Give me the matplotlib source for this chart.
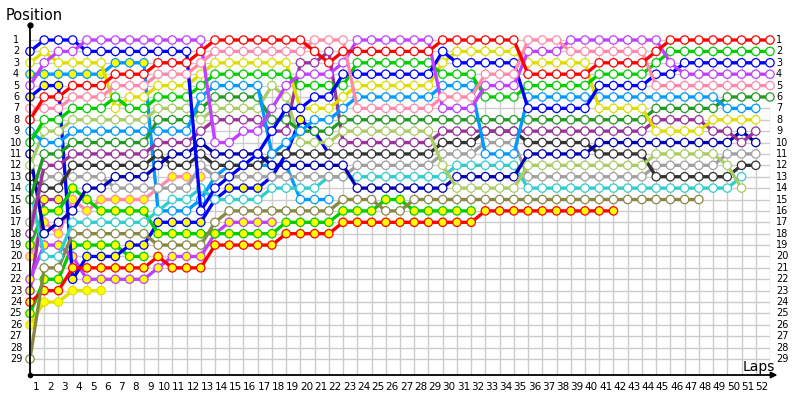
import matplotlib
matplotlib.use("Agg")
import matplotlib.pyplot as plt
import numpy as np

_ = None
laps = list(range(0, 53))
lap_labels = [str(i) for i in range(1, 53)]
positions = list(range(1, 30))

# driver: positions per lap (lap 0 .. 52)
R1 = [8,6,6,5,5,5,4,4,4,3,3,3,2, 1,1,1,1,1,1,1, 2,3,2,2,2,2,2,2,2, 1,1,1,1,1,1, 4,4,4,4,4, 3,3,3,3, 2, 1,1,1,1,1,1,1,1]
P1 = [7,7,7,6,6,6,5,5,5,4,4,4,3, 2,2,2,2,2,2,2, 1,1,1, 7,7,7,7,7,7, 6,6,6, 4,4,4, 1,1,1, 2,2,2,2,2,2, 5,5,5,5,5,5,5,5,5]
V1 = [5,3,2,2,1,1,1,1,1,1,1,1,1, 10,10,9,9,7,5, 4,4,4, 3, 1,1,1,1,1,1, 7,7,7, 5,5,5, 2,2,2, 1,1,1,1,1,1,1, 3, 4,4,4,4,4,4,4]
A  = [2,1,1,1,2,2,2,2,2,2,2,2, 16,14,13,12,11,9,7,7,6,6,4, 4,4,4,4,4,4, 2, 3,3,3,3,3, 7,7,7,7,7, 5,5,5,5, 4,4, 3,3,3,3,3,3,3]
G1 = [10,8,8,7,7,7,6,7,7,6,6,6,5, 4,4,4,4,4,4, 5,5,5,5, 3,3,3,3,3,3, 4,4,4, 6,6,6, 5,5,5,5,5, 4,4,4,4, 3, 2,2,2,2,2,2,2,2]
Y1 = [3,2,3,3,3,3,7,6,6,5,5,5,4, 3,3,3,3,3,3, 7,7,7,6, 5,5,5,5,5,5, 3, 2,2,2,2,2, 3,3,3,3,3, 7, 7,7,7, 9,9,9,9, 8,8,8,8, _]
LB2 = [9,10,10,9,9,9,9,9,9,9,9,9,6, 5,5,5,5, 11,10,9,8,8,7, 6,6,6,6,6,6, 5,5,5, 11,11,11, 6,6,6,6,6,6,6,6,6,6,6,6,6,6, 7,7,7, _]
DG = [15,11,11,10,10,10,10,10,10, 8,8,8, 7, 6,6,6,6, 8,8,9,9,9,8, 8,8,8,8,8,8, 8,8,8,8,8,8,8,8,8,8,8,8,8,8,8, 7,7,7,7,7, 6,6,6,6]
LG = [12,9,9,8,8,8,8,8,8, 7,7,7, 8, 7,7,7,7, 5,6, 10,10,10,9, 9,9,9,9,9,9, 12, 14,14,14,14,14, 12,12,12,12,12,12,12,12,12, 11,11,11,11,11, 12, 14, _, _]
PU1 = [18,12,12,11,11,11,11,11,11, 10,10,10, 9, 8,8,8,8, 9,9,3,3,2,10, 10,10,10,10,10,10, 9,9,9, 9,9,9,9,9,9,9,9,9,9,9,9, 8,8,8,8, 9,9, 10, 9, _]
N  = [11,18,17,16,14,14,13,13,13, 12,11,11, 10, 11,11,11,11, 12,12,12,12,12,12, 14,14,14,14,14,14, 14, 13,13,13,13,13, 11,11,11,11,11, 10,10,10,10,10,10,10,10,10,10, 9, 10, _]
K  = [13,14,14,12,12,12,12,12,12, 11,12,12, 11, 12,12,12,12, 11,11,11,11,11,11, 11,11,11,11,11,11, 10,10,10, 9,9,9, 10,10,10,10,10, 11,11,11,11, 13,13,13,13,13,13, 12,12, _]
GR = [17,13,13,13,13,13,14,14,14, 14,14,14, 12, 13,13,13,13, 13,13,13,13,13,13, 12,12,12,12,12,12, 11,11,11, 10,10,10, 13,13,13,13,13,13,13,13,13, 12,12,12,12,12, 11,11,11, _]
C  = [14,20,20,17,17,17,17,17,17, 16, 15,15, 14, 15,15,15,15,14,14,14,14,13,13, 13,13,13,13,13,13, 13, 12,12,12,12,12, 14,14,14,14,14,14,14,14,14,14,14,14,14,14,14, 13, _, _]
OL = [29,21,21,18,18,18,18,18,18, 19,19,19,19, 17, 16,16,16,16,16,16,16,16, 15,15,15, 16,16, 15,15,15,15,15,15,15,15,15,15,15,15,15,15,15,15,15,15,15,15,15, _,_,_,_,_]
R2 = [24,23,23,21,21,21,21,21,21,20,21,21,21, 19,19,19,19,19, 18,18,18,18, 17,17,17,17,17,17,17,17,17,17, 16,16,16,16,16,16,16,16,16,16, _,_,_,_,_,_,_,_,_,_,_]
G2 = [19,16,16,14,15,16,16,16,16,18,18,18,18, 18,18,18,18,18, 17,17,17,17, 16,16,16, 15,15, 16,16,16,16,16] + [_] * 21
B  = [6,5,5,22,20,20,20,19,19,17,17,17,17, 15,14,14,14,13,11,8,9,11] + [_] * 31
V2 = [22,19,19,20,22,22,22,22,22,21,20,20,20,18,17,17,17,17] + [_] * 35
PU2 = [23,15,15] + [_] * 50
G3 = [25,22,22,19,19,19,19,20,20] + [_] * 44
P2 = [20,17,18,15,16,15,15,15,15,14,13,13,13] + [_] * 40
LB1 = [4,4,4,4,4,4,3,3,3, 16,16,16,15, 13,12,12,12,12,12,15,15,15] + [_] * 31
Y2 = [26,24,24,23,23,23] + [_] * 47

# (series, line colour, laps drawn with yellow filled markers)
ALL = list(range(53))
drivers = [
    (Y2, "#e0e000", ALL), (LB1, "#0099ff", list(range(0, 9))), (P2, "#ff8aa8", ALL),
    (G3, "#00cc00", ALL), (PU2, "#993399", ALL), (V2, "#c040ff", ALL),
    (B, "#0000ff", ALL), (G2, "#00cc00", ALL), (R2, "#ff0000", ALL),
    (OL, "#888844", []), (C, "#33cccc", []), (GR, "#a0a0a0", []), (K, "#333333", []),
    (N, "#0000b0", []), (PU1, "#993399", []), (LG, "#a8cc66", []), (DG, "#229922", []),
    (LB2, "#0099ff", []), (Y1, "#dddd00", []), (G1, "#00cc00", []), (A, "#0000ff", []),
    (V1, "#c040ff", []), (P1, "#ff8aa8", []), (R1, "#ff0000", []),
]

fig = plt.figure(figsize=(8, 4), dpi=100)
ax = fig.add_axes([30 / 800, 25 / 400, 740 / 800, 350 / 400])
ytop = 1 - 15 / 11.393
ybot = 1 + 335 / 11.393
ax.set_xlim(0, 52)
ax.set_ylim(ybot, ytop)
ax.axis("off")

# grid
ax.hlines(positions, 0, 52, color="#cccccc", lw=1.0, zorder=1)
ax.vlines(laps, 1, ybot, color="#cccccc", lw=1.0, zorder=1)

z = 2
for pos, col, ylaps in drivers:
    xs = [l for l, p in zip(laps, pos) if p is not None]
    ys = [p for p in pos if p is not None]
    ax.plot(xs, ys, color=col, lw=2.4, solid_capstyle="round", zorder=z, clip_on=False)
    fills = ["#ffff00" if l in ylaps else "white" for l in xs]
    ax.scatter(xs, ys, s=36, facecolors=fills, edgecolors=col, linewidths=0.9,
               zorder=z + 0.5, clip_on=False)
    z += 1

# axes lines
ax.plot([0, 0], [ybot, ytop], color="black", lw=1.3, clip_on=False, zorder=100)
ax.plot([0], [ytop], marker="o", ms=3.5, color="black", clip_on=False, zorder=101)
ax.plot([0], [ybot], marker="o", ms=3, color="black", clip_on=False, zorder=101)
ax.annotate("", xy=(52 + 7.5 / 14.23, ybot), xytext=(0, ybot),
            arrowprops=dict(arrowstyle="-|>", color="black", lw=1.3,
                            mutation_scale=9, shrinkA=0, shrinkB=0),
            annotation_clip=False, zorder=100)

# tick labels
for i, lab in enumerate(lap_labels, start=1):
    ax.text(i - 0.55, ybot + 12 / 11.393, lab, ha="center", va="center",
            fontsize=7.5, clip_on=False)
for p in positions:
    ax.text(-14 / 14.23, p, str(p), ha="center", va="center", fontsize=7, clip_on=False)
    ax.text(52 + 6 / 14.23, p, str(p), ha="left", va="center", fontsize=7, clip_on=False)

fig.text(6 / 800, 1 - 15 / 400, "Position", ha="left", va="center", fontsize=10.5)
fig.text(775 / 800, 33 / 400, "Laps", ha="right", va="center", fontsize=10)

fig.savefig("out.png", dpi=100)
